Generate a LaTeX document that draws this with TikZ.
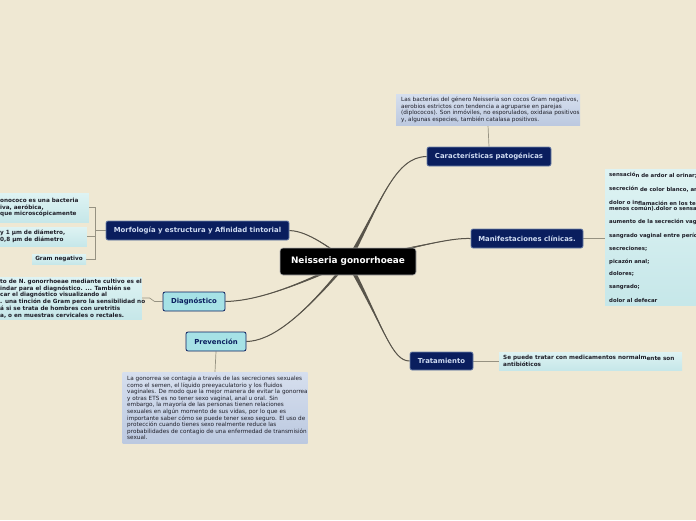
\documentclass[tikz,border=0pt]{standalone}
\usepackage{fontspec}
\setmainfont{DejaVu Sans}
\usetikzlibrary{calc}
\pgfdeclarelayer{bg}\pgfdeclarelayer{edges}
\pgfsetlayers{bg,edges,main}
\definecolor{bgc}{RGB}{239,232,211}
\definecolor{navy}{RGB}{10,30,94}
\definecolor{navyrim}{RGB}{110,130,170}
\definecolor{navytext}{RGB}{208,220,242}
\definecolor{cyanfill}{RGB}{166,226,230}
\definecolor{nbtop}{RGB}{214,223,238}
\definecolor{nbbot}{RGB}{188,201,224}
\definecolor{cbtop}{RGB}{222,243,243}
\definecolor{cbbot}{RGB}{198,231,233}
\definecolor{branch}{RGB}{88,84,74}
\definecolor{thin}{RGB}{150,146,130}
\definecolor{ink}{RGB}{30,30,40}
\newcommand\lowr[1]{\raisebox{-1.2pt}{#1}}
\newcommand\taper[5]{%
  \fill[branch] ($#1+#5$) .. controls #2 and #3 .. #4 .. controls #3 and #2 .. ($#1-#5$) -- cycle;
  \draw[branch,line width=1pt] #1 .. controls #2 and #3 .. #4;}
\tikzset{
  topic/.style={draw=navyrim, fill=navy, rounded corners=2pt, text=navytext, line width=0.7pt,
    font=\bfseries\fontsize{6.9}{8}\selectfont, inner sep=0pt},
  ltopic/.style={draw=navy, fill=cyanfill, rounded corners=2pt, text=navy, line width=0.8pt,
    font=\bfseries\fontsize{6.9}{8}\selectfont, inner sep=0pt},
  central/.style={draw=gray!60, fill=black, rounded corners=3pt, text=white, line width=0.6pt,
    font=\bfseries\fontsize{8.9}{10}\selectfont, inner sep=0pt},
  bluebox/.style={top color=nbtop, bottom color=nbbot, draw=none, inner sep=0pt},
  cyanbox/.style={top color=cbtop, bottom color=cbbot, draw=none, inner sep=0pt},
  bluetext/.style={anchor=west, align=left, inner sep=0pt, text=ink, font=\fontsize{5.7}{6.6}\selectfont},
  cyantext/.style={anchor=west, align=left, inner sep=0pt, text=ink, font=\bfseries\fontsize{5.7}{6.7}\selectfont},
  item/.style={anchor=west, inner sep=0pt, text=ink, font=\bfseries\fontsize{5.4}{5.8}\selectfont},
  link/.style={draw=thin, line width=0.7pt}
}
\begin{document}
\begin{tikzpicture}[x=1pt,y=-1pt]
\useasboundingbox (0,0) rectangle (696,520);
\begin{pgfonlayer}{bg}
\fill[bgc] (0,0) rectangle (696,520);
\end{pgfonlayer}
\clip (0,0) rectangle (696,520);

% main topics
\node[central, minimum width=136pt, minimum height=27pt] (cn) at (348,261.5) {Neisseria gonorrhoeae};
\node[topic, minimum width=124pt, minimum height=19pt] (car) at (489,156.5) {Características patogénicas};
\node[topic, minimum width=112pt, minimum height=19pt] (man) at (527,238.5) {Manifestaciones clínicas.};
\node[topic, minimum width=63pt, minimum height=18pt] (tra) at (441.5,361) {Tratamiento};
\node[topic, minimum width=183pt, minimum height=19pt] (mor) at (197.5,230.5) {Morfología y estructura y Afinidad tintorial};
\node[ltopic, minimum width=62pt, minimum height=19pt] (dia) at (194,301.5) {Diagnóstico};
\node[ltopic, minimum width=60pt, minimum height=19pt] (pre) at (216,341.5) {Prevención};

% note boxes
\node[bluebox, minimum width=184pt, minimum height=31pt] (ncar) at (488,109.5) {};
\node[bluebox, minimum width=185pt, minimum height=71pt] (npre) at (215,407.5) {};
\node[cyanbox, minimum width=148pt, minimum height=42pt, anchor=east] (ndia) at (142,298) {};
\node[cyanbox, minimum width=95pt, minimum height=29pt, anchor=east] (m1) at (89,207.5) {};
\node[cyanbox, minimum width=93pt, minimum height=19pt, anchor=east] (m2) at (87,236.5) {};
\node[cyanbox, minimum width=54pt, minimum height=10pt] (m3) at (59,259) {};
\node[cyanbox, minimum width=183pt, minimum height=18pt, anchor=west] (ntra) at (499,361) {};
\node[cyanbox, minimum width=100pt, minimum height=136pt, anchor=north west] (nman) at (605,169) {};

% note texts
\node[bluetext] (tcar) at (401,110)
 {Las bacterias del género Neisseria son cocos Gram negativos,\\
  aerobios estrictos con tendencia a agruparse en parejas\\
  (diplococos). Son inmóviles, no esporulados, oxidasa positivos\\
  y, algunas especies, también catalasa positivos.};
\node[bluetext] (tpre) at (127,408)
 {La gonorrea se contagia a través de las secreciones sexuales\\
  como el semen, el líquido preeyaculatorio y los fluidos\\
  vaginales. De modo que la mejor manera de evitar la gonorrea\\
  y otras ETS es no tener sexo vaginal, anal u oral. Sin\\
  embargo, la mayoría de las personas tienen relaciones\\
  sexuales en algún momento de sus vidas, por lo que es\\
  importante saber cómo se puede tener sexo seguro. El uso de\\
  protección cuando tienes sexo realmente reduce las\\
  probabilidades de contagio de una enfermedad de transmisión\\
  sexual.};
\node[cyantext] (tdia) at (0,298.5)
 {to de N. gonorrhoeae mediante cultivo es el\\
  indar para el diagnóstico. ... También se\\
  car el diagnóstico visualizando al\\
  . una tinción de Gram pero la sensibilidad no\\
  á si se trata de hombres con uretritis\\
  a, o en muestras cervicales o rectales.};
\node[cyantext] (tm1) at (0,207.5) {onococo es una bacteria\\ iva, aeróbica,\\ que microscópicamente};
\node[cyantext] (tm2) at (0,236.5) {y 1 µm de diámetro,\\ 0,8 µm de diámetro};
\node[cyantext, anchor=center] (tm3) at (59,259) {Gram negativo};
\node[cyantext] (ttra) at (503,361) {Se puede tratar con medicamentos normalm\lowr{ente son}\\ antibióticos};
\node[item] (i1) at (609,175.5) {sensació\lowr{n de ardor al orinar;}};
\node[item] (i2) at (609,189.5) {secreción \lowr{de color blanco, am}};
\node[item] (i3) at (609,203) {dolor o in\lowr{flamación en los te}};
\node[item] (i3b) at (609,209) {menos común).dolor o sensa};
\node[item] (i4) at (609,222) {aumento de la secreción vag};
\node[item] (i5) at (609,235.5) {sangrado vaginal entre perío};
\node[item] (i6) at (609,248.5) {secreciones;};
\node[item] (i7) at (609,261.5) {picazón anal;};
\node[item] (i8) at (609,274) {dolores;};
\node[item] (i9) at (609,287) {sangrado;};
\node[item] (i10) at (609,300) {dolor al defecar};

\begin{pgfonlayer}{edges}
% thick branches
\taper{(cn.center)}{(382,200)}{(395,157)}{(car.west)}{(2.7,0)}
\taper{(cn.center)}{(430,244)}{(450,238)}{(man.west)}{(0,2.7)}
\taper{(cn.center)}{(385,330)}{(392,361)}{(tra.west)}{(2.7,0)}
\taper{(cn.center)}{(318,238)}{(302,231)}{(mor.east)}{(2.2,0)}
\taper{(cn.center)}{(285,292)}{(250,301)}{(dia.east)}{(0,2.2)}
\taper{(cn.center)}{(300,320)}{(270,341)}{(pre.east)}{(2.2,0)}
% thin links
\draw[link] (ncar.south) -- (car.north);
\draw[link] (man.east) -- (nman.west |- man.east);
\draw[link] (tra.east) -- (ntra.west);
\draw[link] (pre.south) -- (npre.north);
\draw[link] (dia.west) -- ++(-8,0) -- ++(-5,-3.5) -- (ndia.east);
\coordinate (br) at (95.5,230.5);
\draw[link] (mor.west) -- (br);
\draw[link] (m1.east) -| (br) |- (m3.east);
\draw[link] (m2.east) -- (m2.east -| br);
\end{pgfonlayer}
\end{tikzpicture}
\end{document}
